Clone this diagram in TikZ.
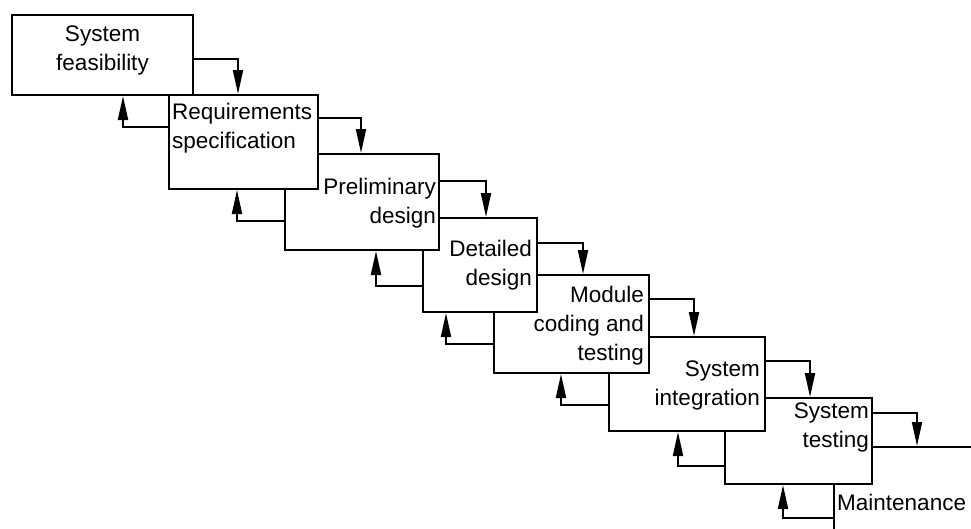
\documentclass[tikz,border=0pt]{standalone}
\usepackage{fontspec}
\setmainfont{Liberation Sans}
\usepackage{tikz}
\usetikzlibrary{positioning, calc, arrows.meta}

\begin{document}
\begin{tikzpicture}[x=1pt, y=-1pt]
		\tikzstyle{stage}=[rectangle, draw=black, line width=2pt, fill=white, anchor=north west, inner sep=0pt]
		\tikzstyle{lab}=[inner sep=0pt, font=\fontsize{22.5}{29}\selectfont]
		\tikzstyle{flow}=[line width=2pt, -{Triangle[length=24pt, width=10pt]}]
		%%
		\useasboundingbox (0,0) rectangle (971,528);
		\clip (0,0) rectangle (971,528);
		%% later stages first, so that earlier ones lie on top
		\node (b8) at (833,446) [stage, minimum width=200pt, minimum height=130pt] {};
		\node (b7) at (724,397) [stage, minimum width=147pt, minimum height=86pt] {};
		\node (b6) at (608,336) [stage, minimum width=156pt, minimum height=94pt] {};
		\node (b5) at (493,274) [stage, minimum width=155pt, minimum height=98pt] {};
		\node (b4) at (422,217) [stage, minimum width=114pt, minimum height=94pt] {};
		\node (b3) at (284,153) [stage, minimum width=154pt, minimum height=96pt] {};
		\node (b2) at (168,94) [stage, minimum width=149pt, minimum height=94pt] {};
		\node (b1) at (11,14) [stage, minimum width=181pt, minimum height=80pt] {};
		
		\node [lab, anchor=base, align=center] (l1) at ([yshift=-56pt]b1.north) {System\\feasibility};
		\node [lab, anchor=base west, align=left] (l2) at ([shift={(4pt,-54pt)}]b2.north west) {Requirements\\specification};
		\node [lab, anchor=base east, align=right] (l3) at ([shift={(-4pt,-70pt)}]b3.north east) {Preliminary\\design};
		\node [lab, anchor=base east, align=right] (l4) at ([shift={(-6pt,-68pt)}]b4.north east) {Detailed\\design};
		\node [lab, anchor=base east, align=right] (l5) at ([shift={(-6pt,-86pt)}]b5.north east) {Module\\coding and\\testing};
		\node [lab, anchor=base east, align=right] (l6) at ([shift={(-6pt,-69pt)}]b6.north east) {System\\integration};
		\node [lab, anchor=base east, align=right] (l7) at ([shift={(-4pt,-50pt)}]b7.north east) {System\\testing};
		\node [lab, anchor=base west] (l8) at ([shift={(4pt,-64pt)}]b8.north west) {Maintenance};
		
		%% forward steps
		\draw [flow] ([yshift=-45pt]b1.north east) -| ([xshift=70pt]b2.north west);
		\draw [flow] ([yshift=-24pt]b2.north east) -| ([xshift=77pt]b3.north west);
		\draw [flow] ([yshift=-28pt]b3.north east) -| ([xshift=64pt]b4.north west);
		\draw [flow] ([yshift=-26pt]b4.north east) -| ([xshift=90pt]b5.north west);
		\draw [flow] ([yshift=-25pt]b5.north east) -| ([xshift=86pt]b6.north west);
		\draw [flow] ([yshift=-25pt]b6.north east) -| ([xshift=86pt]b7.north west);
		\draw [flow] ([yshift=-16pt]b7.north east) -| ([xshift=84pt]b8.north west);
		
		%% feedback steps
		\draw [flow] ([yshift=-33pt]b2.north west) -| ([xshift=112pt]b1.south west);
		\draw [flow] ([yshift=-68pt]b3.north west) -| ([xshift=69pt]b2.south west);
		\draw [flow] ([yshift=-69pt]b4.north west) -| ([xshift=92pt]b3.south west);
		\draw [flow] ([yshift=-70pt]b5.north west) -| ([xshift=24pt]b4.south west);
		\draw [flow] ([yshift=-69pt]b6.north west) -| ([xshift=68pt]b5.south west);
		\draw [flow] ([yshift=-69pt]b7.north west) -| ([xshift=70pt]b6.south west);
		\draw [flow] ([yshift=-72pt]b8.north west) -| ([xshift=59pt]b7.south west);
\end{tikzpicture}
\end{document}
